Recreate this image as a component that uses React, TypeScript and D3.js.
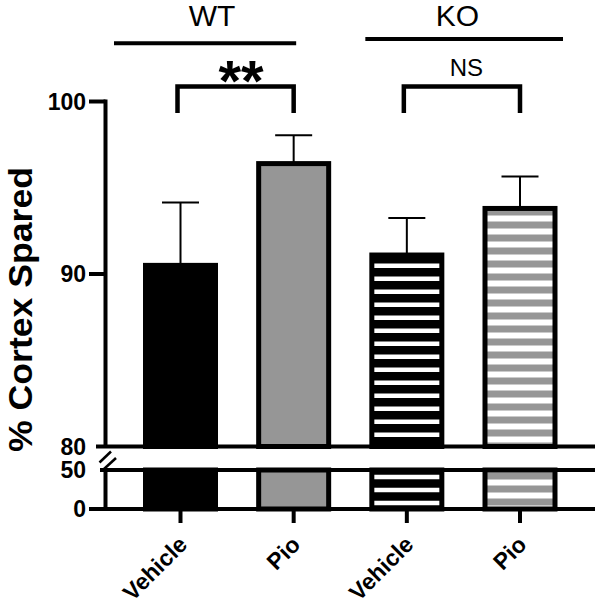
import React from "react";
import * as d3 from "d3";

// ---- data ----
const barIds = ["WT-Vehicle", "WT-Pio", "KO-Vehicle", "KO-Pio"];
const treatments = ["Vehicle", "Pio", "Vehicle", "Pio"];
const means = [90.5, 96.4, 91.1, 93.8];
const sems = [3.65, 1.65, 2.15, 1.85];
const upperTicks = [80, 90, 100];
const lowerTicks = [0, 50];
const groupNames = ["WT", "KO"];
const groupMembers = [
  ["WT-Vehicle", "WT-Pio"],
  ["KO-Vehicle", "KO-Pio"],
];
const significance = ["**", "NS"];
const yTitle = "% Cortex Spared";

// ---- styles ----
const barFills = ["SOLID_BLACK", "#969696", "STRIPE_BLACK", "STRIPE_GRAY"];
const FONT = "'Liberation Sans', Arial, Helvetica, sans-serif";

export default function App() {
  const W = 600;
  const H = 605;
  const axisX = 105.5;
  const xRight = 595;

  const yU = d3.scaleLinear().domain([80, 100]).range([446.5, 101.5]);
  const yL = d3.scaleLinear().domain([0, 50]).range([509, 470]);
  const x = d3.scalePoint<string>().domain(barIds).range([180.5, 520]);
  const barW = 70;
  const capW = 37;

  const fillFor = (i: number, seg: "U" | "L") => {
    const f = barFills[i];
    if (f === "STRIPE_BLACK") return `url(#stripeBlack${seg})`;
    if (f === "STRIPE_GRAY") return `url(#stripeGray${seg})`;
    if (f === "SOLID_BLACK") return "#000";
    return f;
  };

  // group line extents (pixel offsets from bar centers)
  const groupLineOffsets = [
    [-66.5, 2.5],
    [-41.5, 43],
  ];
  const groupLineY = [43.3, 39];
  const groupTextX = [-25, -6];

  return (
    <svg
      width={W}
      height={H}
      style={{ position: "absolute", left: 0, top: 0, background: "#fff" }}
      fontFamily={FONT}
    >
      <defs>
        <pattern id="stripeBlackU" patternUnits="userSpaceOnUse" width={20} height={13}>
          <rect width={20} height={13} fill="#000" />
          <rect y={3.5} width={20} height={4.5} fill="#fff" />
        </pattern>
        <pattern id="stripeGrayU" patternUnits="userSpaceOnUse" width={20} height={13}>
          <rect width={20} height={13} fill="#fff" />
          <rect y={0.5} width={20} height={7} fill="#969696" />
        </pattern>
        <pattern id="stripeBlackL" patternUnits="userSpaceOnUse" width={20} height={13}>
          <rect width={20} height={13} fill="#000" />
          <rect y={6.75} width={20} height={4.5} fill="#fff" />
        </pattern>
        <pattern id="stripeGrayL" patternUnits="userSpaceOnUse" width={20} height={13}>
          <rect width={20} height={13} fill="#fff" />
          <rect y={4.5} width={20} height={7} fill="#969696" />
        </pattern>
      </defs>
      <rect width={W} height={H} fill="#fff" />

      {/* Y title */}
      <text
        transform={`translate(31.5, 309.5) rotate(-90)`}
        textAnchor="middle"
        fontWeight="bold"
        fontSize={33}
        textLength={285}
        lengthAdjust="spacingAndGlyphs"
        fill="#000"
      >
        {yTitle}
      </text>

      {/* upper bars */}
      {barIds.map((id, i) => (
        <rect
          key={"u" + id}
          x={(x(id) as number) - barW / 2}
          y={yU(means[i])}
          width={barW}
          height={yU(80) - yU(means[i])}
          fill={fillFor(i, "U")}
          stroke="#000"
          strokeWidth={5}
        />
      ))}
      {/* lower bars */}
      {barIds.map((id, i) => (
        <rect
          key={"l" + id}
          x={(x(id) as number) - barW / 2}
          y={yL(50)}
          width={barW}
          height={yL(0) - yL(50)}
          fill={fillFor(i, "L")}
          stroke="#000"
          strokeWidth={5}
        />
      ))}

      {/* error bars */}
      {barIds.map((id, i) => {
        const cx = x(id) as number;
        const top = yU(means[i] + sems[i]);
        return (
          <g key={"e" + id} stroke="#000" strokeWidth={2}>
            <line x1={cx} x2={cx} y1={yU(means[i])} y2={top} />
            <line x1={cx - capW / 2} x2={cx + capW / 2} y1={top} y2={top} />
          </g>
        );
      })}

      {/* upper axis */}
      <g stroke="#000" strokeWidth={4}>
        <line x1={axisX} x2={axisX} y1={yU(100) - 2} y2={yU(80)} />
        {upperTicks
          .filter((t) => t !== 80)
          .map((t) => (
            <line key={t} x1={89} x2={axisX} y1={yU(t)} y2={yU(t)} />
          ))}
        <line x1={96} x2={xRight} y1={yU(80)} y2={yU(80)} />
      </g>
      {upperTicks.map((t) => (
        <text
          key={"ut" + t}
          x={86}
          y={yU(t)}
          dy="0.36em"
          textAnchor="end"
          fontWeight="bold"
          fontSize={23}
          fill="#000"
        >
          {t}
        </text>
      ))}

      {/* lower axis */}
      <g stroke="#000" strokeWidth={4}>
        <line x1={axisX} x2={axisX} y1={yL(50)} y2={yL(0)} />
        <line x1={100} x2={xRight} y1={yL(50)} y2={yL(50)} />
        <line x1={89} x2={xRight} y1={yL(0)} y2={yL(0)} />
      </g>
      {lowerTicks.map((t) => (
        <text
          key={"lt" + t}
          x={86}
          y={yL(t)}
          dy="0.36em"
          textAnchor="end"
          fontWeight="bold"
          fontSize={23}
          fill="#000"
        >
          {t}
        </text>
      ))}

      {/* break marks */}
      <g stroke="#000" strokeWidth={2.5}>
        <line x1={99.5} y1={462.5} x2={111} y2={451.5} />
        <line x1={104} y1={469} x2={116} y2={458} />
      </g>

      {/* x ticks + labels */}
      {barIds.map((id, i) => {
        const cx = x(id) as number;
        return (
          <g key={"x" + id}>
            <line x1={cx} x2={cx} y1={yL(0)} y2={yL(0) + 14} stroke="#000" strokeWidth={4} />
            <text
              transform={`translate(${cx + 8}, 546) rotate(-45)`}
              textAnchor="end"
              fontWeight="bold"
              fontSize={23}
              fill="#000"
            >
              {treatments[i]}
            </text>
          </g>
        );
      })}

      {/* group annotations */}
      {groupNames.map((g, gi) => {
        const a = x(groupMembers[gi][0]) as number;
        const b = x(groupMembers[gi][1]) as number;
        const [ol, or] = groupLineOffsets[gi];
        const ly = groupLineY[gi];
        const bTop = 86.5;
        const bBot = 113;
        const mid = (a + b) / 2;
        return (
          <g key={"g" + g}>
            <text x={mid + groupTextX[gi]} y={26} textAnchor="middle" fontSize={30} fill="#000">
              {g}
            </text>
            <line x1={a + ol} x2={b + or} y1={ly} y2={ly} stroke="#000" strokeWidth={4} />
            <path
              d={`M${a - 3},${bBot} L${a - 3},${bTop} L${b},${bTop} L${b},${bBot}`}
              fill="none"
              stroke="#000"
              strokeWidth={4.5}
            />
            {significance[gi] === "**" ? (
              <text
                x={mid + 4}
                y={101}
                textAnchor="middle"
                fontWeight="bold"
                fontSize={58}
                fill="#000"
              >
                {significance[gi]}
              </text>
            ) : (
              <text x={mid + 3} y={76} textAnchor="middle" fontSize={24} fill="#000">
                {significance[gi]}
              </text>
            )}
          </g>
        );
      })}
    </svg>
  );
}
